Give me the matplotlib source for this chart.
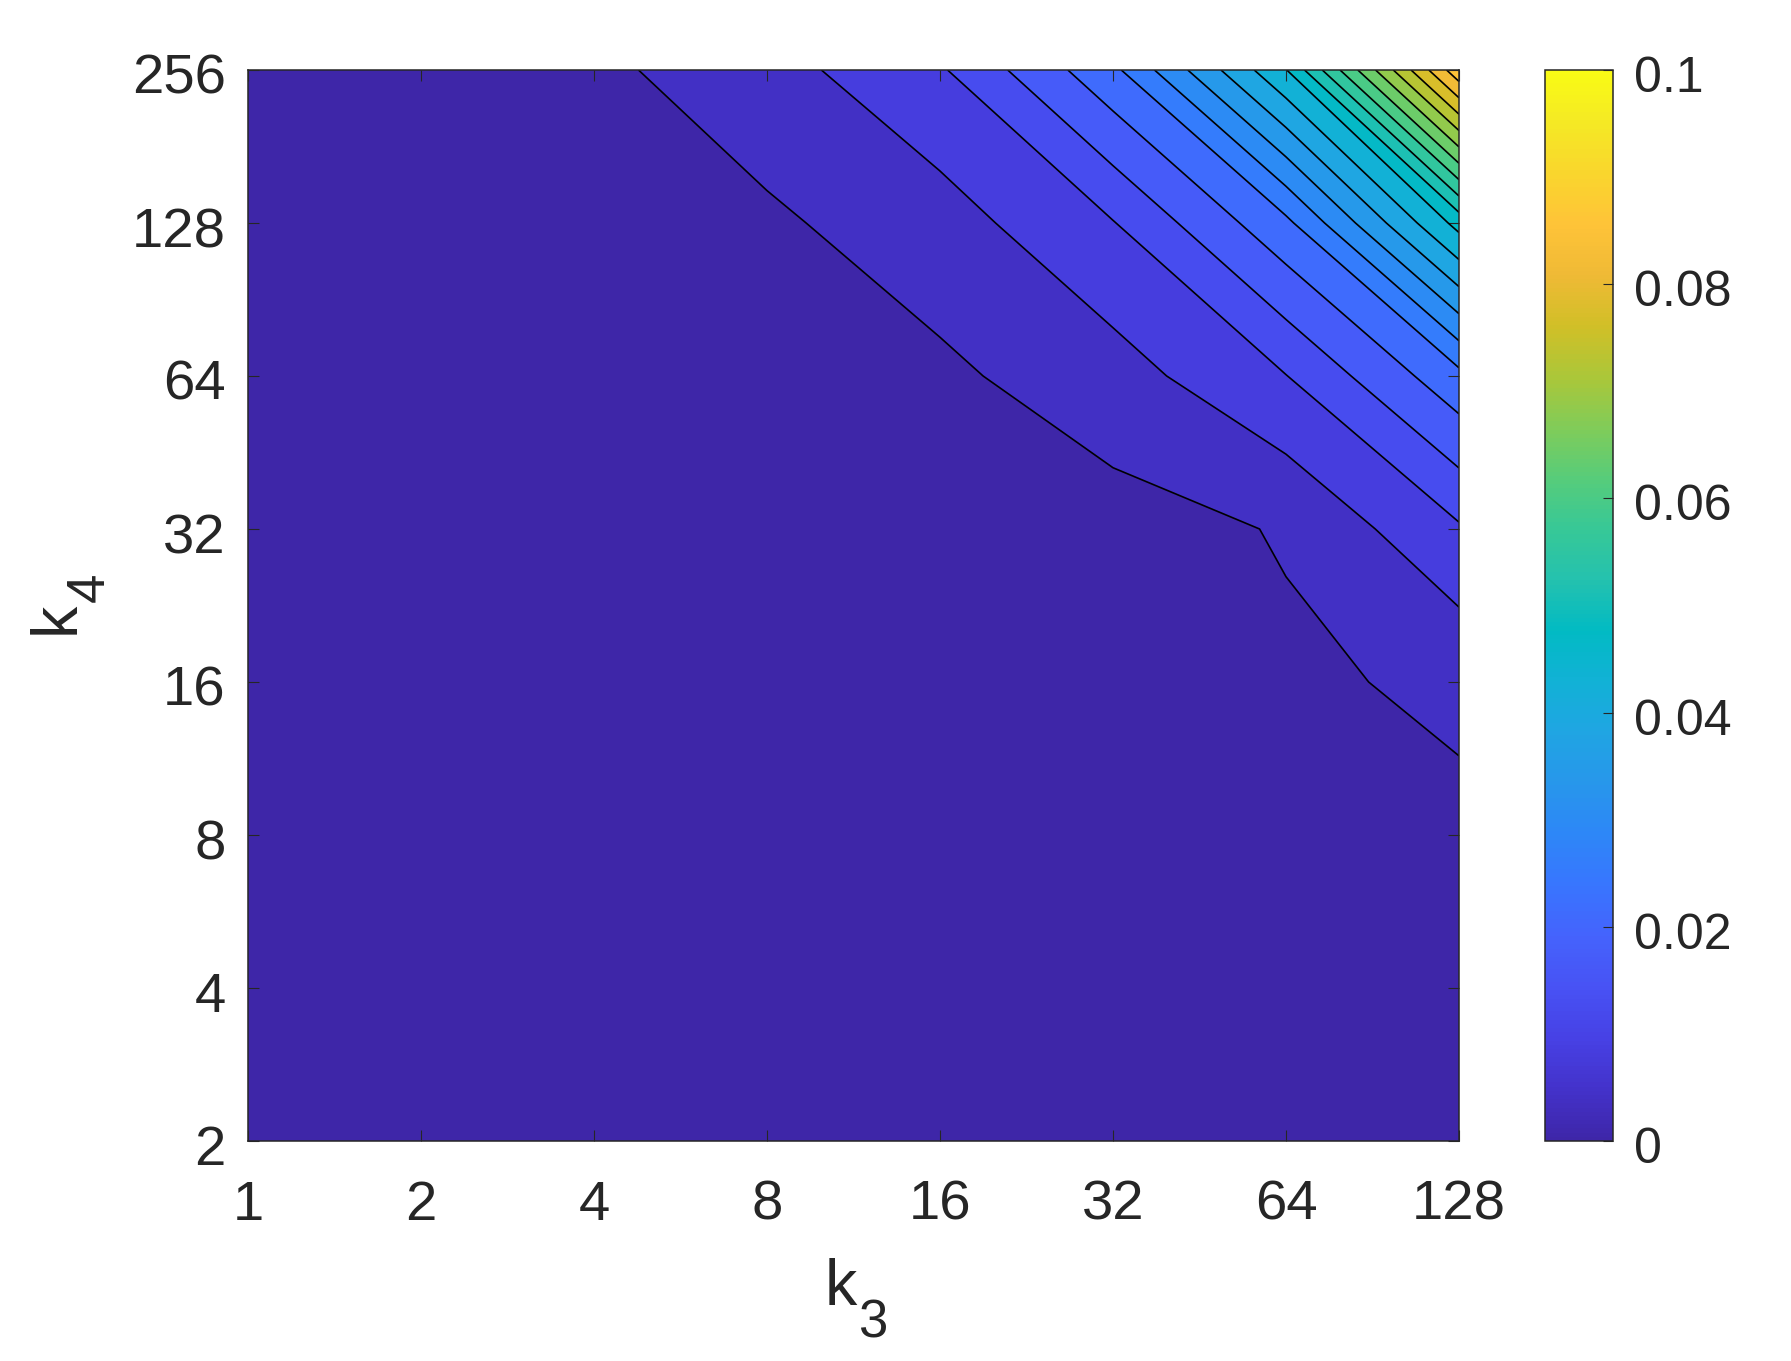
import numpy as np
import matplotlib
matplotlib.use('Agg')
import matplotlib.pyplot as plt
from matplotlib.cm import ScalarMappable
from matplotlib.colors import LinearSegmentedColormap, Normalize
from matplotlib.transforms import ScaledTranslation

plt.rcParams['font.family'] = ['Liberation Sans', 'DejaVu Sans']

# axis values (powers of two, drawn evenly spaced)
k3_labels = ['1', '2', '4', '8', '16', '32', '64', '128']
k4_labels = ['2', '4', '8', '16', '32', '64', '128', '256']
cbar_ticks = [0, 0.02, 0.04, 0.06, 0.08, 0.1]
cbar_labels = ['0', '0.02', '0.04', '0.06', '0.08', '0.1']

# values, one row per k4 (2 -> 256), one column per k3 (1 -> 128)
z_k4_2 = [0.00002, 0.00003, 0.00005, 0.00008, 0.00014, 0.00027, 0.00043, 0.00086]
z_k4_4 = [0.00003, 0.00005, 0.00008, 0.00014, 0.00027, 0.00043, 0.0013, 0.0017]
z_k4_8 = [0.00005, 0.00008, 0.00014, 0.00027, 0.00043, 0.00086, 0.0019, 0.00354]
z_k4_16 = [0.00008, 0.00014, 0.00027, 0.00043, 0.00086, 0.0019, 0.00365, 0.00499]
z_k4_32 = [0.00011, 0.00021, 0.00043, 0.00086, 0.0017, 0.00268, 0.00458, 0.01233]
z_k4_64 = [0.00021, 0.00043, 0.00086, 0.0017, 0.00349, 0.0067, 0.01276, 0.02445]
z_k4_128 = [0.00043, 0.00086, 0.0017, 0.0036, 0.00665, 0.01266, 0.02467, 0.0487]
z_k4_256 = [0.00086, 0.0017, 0.0034, 0.00686, 0.01233, 0.02467, 0.047, 0.0888]

levels = [0, 0.00429, 0.00858, 0.01287, 0.01716, 0.02145, 0.02574, 0.03003, 0.03432,
          0.03861, 0.0429, 0.04719, 0.05148, 0.05577, 0.06006, 0.06435, 0.06864,
          0.07293, 0.07722, 0.08151, 0.0858]

# parula colour steps
parula = [(0.2422, 0.1504, 0.6603), (0.2647, 0.1978, 0.7952), (0.2783, 0.2559, 0.8991),
          (0.2810, 0.3228, 0.9579), (0.2699, 0.3892, 0.9906), (0.2206, 0.4603, 0.9973),
          (0.1786, 0.5289, 0.9682), (0.1540, 0.5902, 0.9218), (0.1248, 0.6459, 0.8883),
          (0.0689, 0.6948, 0.8394), (0.0067, 0.7312, 0.7660), (0.1408, 0.7584, 0.6842),
          (0.2161, 0.7843, 0.5923), (0.3406, 0.8008, 0.4789), (0.5044, 0.7993, 0.3480),
          (0.6720, 0.7793, 0.2227), (0.8203, 0.7498, 0.1535), (0.9393, 0.7288, 0.2100),
          (0.9970, 0.7659, 0.2199), (0.9786, 0.8386, 0.1766), (0.9597, 0.9135, 0.1423),
          (0.9769, 0.9839, 0.0805)]
cmap = LinearSegmentedColormap.from_list('parula', parula, N=256)
norm = Normalize(0, 0.1)

Z = np.array([z_k4_2, z_k4_4, z_k4_8, z_k4_16, z_k4_32, z_k4_64, z_k4_128, z_k4_256])
x = np.arange(len(k3_labels))
y = np.arange(len(k4_labels))

W, H = 1791, 1361
ink = '#262626'
fig = plt.figure(figsize=(W / 100, H / 100), dpi=100)
ax = fig.add_axes([248 / W, 1 - 1141 / H, 1211 / W, 1071 / H])

# filled bands take the colour of their lower level, as in MATLAB contourf
band_colors = [cmap(norm(v)) for v in levels]
ax.contourf(x, y, Z, levels=levels + [0.1], colors=band_colors)
ax.contour(x, y, Z, levels=levels[1:], colors='k', linewidths=1.2)

ax.set_xticks(x, k3_labels)
ax.set_yticks(y, k4_labels)
ax.tick_params(direction='in', length=8, width=0.8, color=ink, labelcolor=ink,
               labelsize=40.5, top=True, right=True)
ax.tick_params(axis='x', pad=28)
ax.tick_params(axis='y', pad=16)
for s in ax.spines.values():
    s.set_color(ink)
    s.set_linewidth(1.1)

# labels with the large, low MATLAB subscript
def label_part(s, px, py, size, rotation=0):
    fig.text(px / W, 1 - py / H, s, fontsize=size, color=ink, rotation=rotation,
             rotation_mode='anchor', ha='left', va='baseline')

label_part('k', 825, 1305, 46.5)
label_part('3', 858, 1337, 38)
label_part('k', 74, 634, 46.5, rotation=90)
label_part('4', 104, 602, 38, rotation=90)

cax = fig.add_axes([1545 / W, 1 - 1141 / H, 68 / W, 1071 / H])
cb = fig.colorbar(ScalarMappable(norm=norm, cmap=cmap), cax=cax)
cb.set_ticks(cbar_ticks, labels=cbar_labels)
cb.ax.tick_params(direction='in', length=7, width=0.8, color=ink, labelcolor=ink,
                  labelsize=36, pad=15)
cb.outline.set_edgecolor(ink)
cb.outline.set_linewidth(1.1)

# tick labels sit a little below their ticks
down = ScaledTranslation(0, -4 / 100, fig.dpi_scale_trans)
for label in ax.get_yticklabels() + cb.ax.get_yticklabels():
    label.set_transform(label.get_transform() + down)

fig.savefig('out.png', dpi=100)
